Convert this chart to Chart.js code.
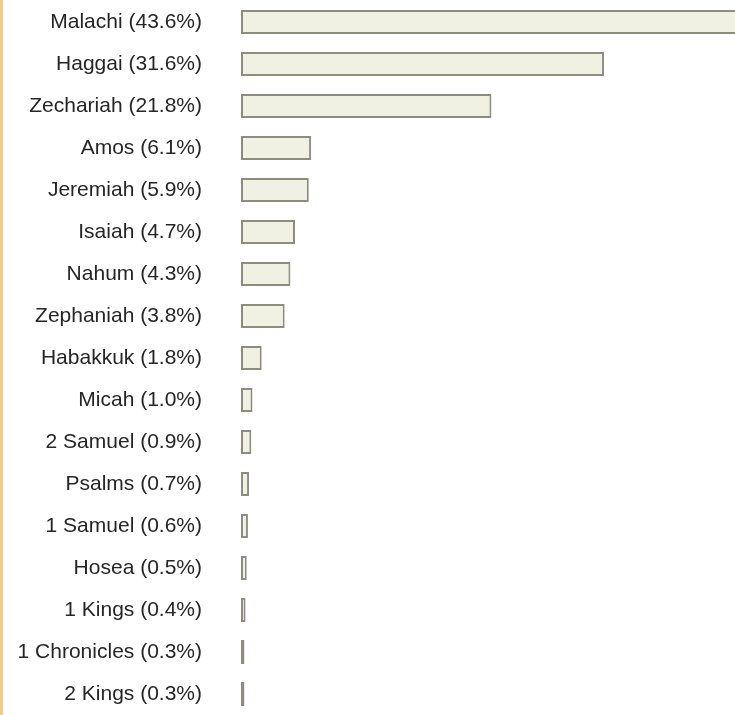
<!DOCTYPE html>
<html>
<head>
<meta charset="utf-8">
<script src="https://cdn.jsdelivr.net/npm/chart.js@4"></script>
<style>
    body { margin: 0; background: #fff; }
    #wrap { position: relative; width: 735px; height: 715px; }
    #edge { position: absolute; left: 0; top: 0; width: 3px; height: 715px; background: #ebcd93; }
</style>
</head>
<body>
<div id="wrap">
    <canvas id="barChart" width="735" height="715"></canvas>
    <div id="edge"></div>
</div>
<script>
// Books and their share (%)
const books = ['Malachi', 'Haggai', 'Zechariah', 'Amos', 'Jeremiah', 'Isaiah', 'Nahum', 'Zephaniah',
    'Habakkuk', 'Micah', '2 Samuel', 'Psalms', '1 Samuel', 'Hosea', '1 Kings', '1 Chronicles', '2 Kings'];
const shares = [43.6, 31.6, 21.8, 6.1, 5.9, 4.7, 4.3, 3.8, 1.8, 1.0, 0.9, 0.7, 0.6, 0.5, 0.4, 0.3, 0.3];

// Tick labels, e.g. "Malachi (43.6%)"
const tickLabels = books.map((b, i) => b + ' (' + shares[i].toFixed(1) + '%)');

const canvas = document.getElementById('barChart');

new Chart(canvas, {
    type: 'bar',
    data: {
        labels: tickLabels,
        datasets: [{
            data: shares,
            backgroundColor: '#f0f0e3',
            borderColor: '#8d8c7d',
            borderWidth: 2,
            borderSkipped: false,
            barPercentage: 1,
            categoryPercentage: 0.571
        }]
    },
    options: {
        indexAxis: 'y',
        responsive: false,
        animation: false,
        layout: {
            padding: { top: 1, right: 0, bottom: 0, left: 0 }
        },
        plugins: {
            legend: { display: false },
            tooltip: { enabled: false }
        },
        scales: {
            x: {
                display: false,
                min: 0,
                max: 43
            },
            y: {
                grid: { display: false, drawTicks: false, tickLength: 0 },
                border: { display: false },
                ticks: {
                    padding: 39,
                    color: '#262626',
                    font: { family: "'Liberation Sans', Arial, sans-serif", size: 21 }
                },
                afterFit: function(scale) {
                    // fixed axis width; tick padding should not push the plot down
                    scale.width = 241;
                    scale.paddingTop = 0;
                    scale.paddingBottom = 0;
                }
            }
        }
    }
});
</script>
</body>
</html>
